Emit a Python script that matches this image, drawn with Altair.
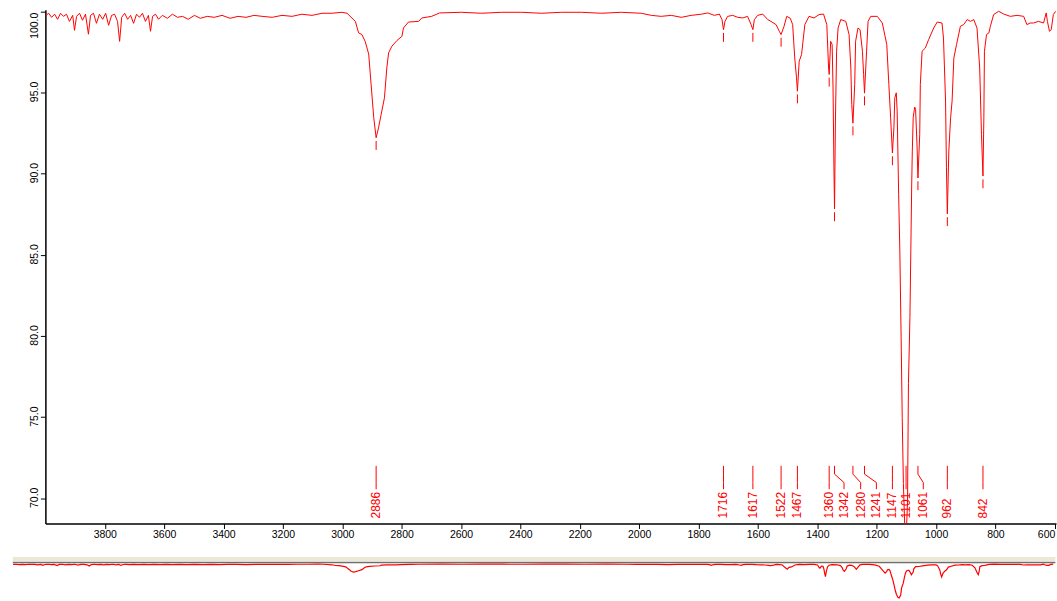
import altair as alt
import pandas as pd

# ---------------- data ----------------
wavenumber = [
    3999, 3989, 3979, 3969, 3959, 3949, 3939, 3929, 3919, 3908, 3902, 3895, 3885, 3875, 3865, 3855,
    3848, 3838, 3828, 3818, 3807, 3797, 3787, 3777, 3767, 3757, 3750, 3743, 3733, 3723, 3713, 3703,
    3693, 3683, 3673, 3663, 3653, 3646, 3639, 3629, 3619, 3606, 3589, 3572, 3555, 3538, 3519, 3498,
    3478, 3455, 3431, 3405, 3378, 3351, 3324, 3297, 3270, 3236, 3203, 3169, 3136, 3102, 3068, 3035,
    3001, 2984, 2956, 2945, 2934, 2923, 2911, 2903, 2894, 2886, 2878, 2869, 2858, 2850, 2844, 2833,
    2816, 2799, 2794, 2777, 2743, 2732, 2699, 2672, 2598, 2531, 2464, 2397, 2329, 2262, 2195, 2127,
    2060, 1993, 1959, 1926, 1892, 1858, 1825, 1791, 1769, 1747, 1730, 1721, 1716, 1711, 1702, 1685,
    1668, 1651, 1635, 1623, 1617, 1612, 1601, 1584, 1567, 1556, 1539, 1528, 1522, 1512, 1503, 1491,
    1483, 1476, 1470, 1467, 1461, 1453, 1442, 1428, 1411, 1394, 1379, 1368, 1362, 1360, 1355, 1350,
    1347, 1344, 1342, 1339, 1335, 1330, 1321, 1304, 1293, 1287, 1284, 1280, 1274, 1271, 1263, 1256,
    1248, 1244, 1241, 1234, 1229, 1220, 1198, 1181, 1166, 1159, 1153, 1147, 1142, 1139, 1134, 1131,
    1126, 1122, 1117, 1114, 1110, 1105, 1101, 1096, 1093, 1088, 1085, 1082, 1080, 1077, 1072, 1069,
    1064, 1061, 1055, 1053, 1047, 1036, 1025, 1008, 996, 980, 975, 968, 965, 962, 957, 951,
    946, 940, 931, 918, 907, 895, 884, 873, 862, 853, 847, 842, 839, 837, 830, 822,
    817, 806, 789, 772, 750, 727, 705, 694, 683, 672, 655, 638, 629, 625, 618, 612,
    605, 597,
]
transmittance = [
    99.75, 99.88, 99.63, 99.82, 99.51, 99.88, 99.69, 99.82, 99.38, 99.75, 98.83, 99.69, 99.88, 99.45, 99.82, 98.59,
    99.75, 99.88, 99.26, 99.82, 99.51, 99.88, 99.14, 99.75, 99.82, 99.38, 98.15, 99.63, 99.88, 99.51, 99.75, 99.26,
    99.82, 99.63, 99.88, 99.38, 99.75, 98.77, 99.69, 99.82, 99.51, 99.75, 99.57, 99.82, 99.63, 99.69, 99.51, 99.75,
    99.57, 99.69, 99.63, 99.75, 99.57, 99.69, 99.63, 99.75, 99.69, 99.63, 99.75, 99.69, 99.82, 99.75, 99.88, 99.88,
    99.94, 99.88, 99.38, 98.67, 98.57, 98.15, 97.36, 95.51, 93.44, 92.21, 92.82, 93.65, 94.67, 96.51, 97.44, 97.85,
    98.20, 98.46, 98.97, 99.34, 99.38, 99.59, 99.69, 99.90, 99.94, 99.88, 99.94, 99.94, 99.88, 99.94, 99.94, 99.88,
    99.94, 99.88, 99.75, 99.69, 99.75, 99.63, 99.75, 99.82, 99.90, 99.75, 99.83, 99.49, 98.87, 99.38, 99.69, 99.75,
    99.63, 99.59, 99.69, 99.18, 98.87, 99.49, 99.75, 99.83, 99.49, 99.38, 99.18, 98.77, 98.57, 99.08, 99.69, 99.57,
    99.18, 97.13, 95.90, 95.08, 96.92, 97.34, 99.18, 99.69, 99.59, 99.80, 99.83, 99.18, 96.51, 96.11, 98.15, 97.95,
    95.28, 90.36, 87.82, 93.24, 97.54, 98.97, 99.49, 99.38, 98.57, 96.51, 94.26, 93.11, 95.49, 98.15, 98.97, 98.87,
    97.54, 96.11, 94.96, 97.54, 99.38, 99.69, 99.69, 99.28, 97.95, 95.49, 93.44, 91.27, 92.82, 94.67, 94.98, 93.85,
    88.73, 85.24, 79.09, 74.99, 70.91, 68.02, 67.40, 69.87, 77.06, 81.14, 85.24, 89.36, 91.39, 93.44, 94.10, 93.97,
    91.70, 89.73, 92.42, 95.49, 97.54, 97.74, 98.26, 98.97, 99.34, 99.28, 98.36, 94.47, 90.36, 87.52, 91.39, 93.44,
    94.47, 97.13, 97.95, 99.08, 99.18, 99.49, 99.38, 99.49, 98.97, 96.51, 92.42, 89.85, 93.44, 97.54, 98.57, 98.67,
    99.08, 99.80, 100.00, 99.83, 99.69, 99.75, 99.69, 99.18, 99.28, 99.28, 99.38, 99.28, 99.90, 99.38, 98.77, 98.87,
    99.80, 100.00,
]

peak_text = ["2886", "1716", "1617", "1522", "1467", "1360", "1342", "1280", "1241",
             "1147", "1101", "1061", "962", "842"]
peak_wn = [2886, 1716, 1617, 1522, 1467, 1360, 1342, 1280, 1241, 1147, 1101, 1061, 962, 842]
label_wn = [2886, 1716, 1617, 1522, 1467, 1360, 1310, 1254, 1201, 1147, 1101, 1043, 962, 842]
peak_min_T = [92.21, 98.87, 98.87, 98.57, 95.08, 96.11, 87.82, 93.11, 94.96, 91.27, None, 89.73, 87.52, 89.85]

x_ticks = [3800, 3600, 3400, 3200, 3000, 2800, 2600, 2400, 2200, 2000, 1800, 1600, 1400, 1200, 1000, 800, 600]
y_ticks = [70, 75, 80, 85, 90, 95, 100]

leader_levels = [72.0, 71.49, 70.97, 70.56]
label_T = 68.76
RED = "#ff0000"
FONT = "Liberation Sans"

# ---------------- tables ----------------
spec = pd.DataFrame({"w": wavenumber, "T": transmittance})

rows = []
for lbl, pw, lw in zip(peak_text, peak_wn, label_wn):
    pts = [(pw, leader_levels[0]), (pw, leader_levels[1]), (lw, leader_levels[2]), (lw, leader_levels[3])]
    for k, (w, t) in enumerate(pts):
        rows.append({"label": lbl, "k": k, "w": w, "T": t})
leaders = pd.DataFrame(rows)

labels = pd.DataFrame({"label": peak_text, "w": label_wn, "T": [label_T] * len(peak_text)})

mk_w, mk_T, mk_T2 = [], [], []
for pw, m in zip(peak_wn, peak_min_T):
    if m is not None:
        mk_w.append(pw)
        mk_T.append(m - 0.2)
        mk_T2.append(m - 0.75)
markers = pd.DataFrame({"w": mk_w, "T": mk_T, "T2": mk_T2})

# ---------------- main panel ----------------
xs = alt.Scale(domain=[4000, 596], nice=False, zero=False)
ys = alt.Scale(domain=[68.45, 100.1], nice=False, zero=False)

xaxis = alt.Axis(values=x_ticks, format="d", title=None, grid=False, domainColor="black",
                 domainWidth=1.5, tickColor="black", tickSize=5, tickWidth=1, labelFontSize=10.5,
                 labelColor="black", labelFont=FONT, labelPadding=1, labelFlush=15, labelOverlap=False)
yaxis = alt.Axis(values=y_ticks, format=".1f", title=None, grid=False, domainColor="black",
                 domainWidth=1.5, tickColor="black", tickSize=5, tickWidth=1, labelFontSize=10.5,
                 labelColor="black", labelFont=FONT, labelPadding=1, labelAngle=270,
                 labelAlign="center", labelBaseline="bottom", labelOverlap=False,
                 labelOffset={"condition": {"test": "datum.value == 100", "value": 14}, "value": -1})

X = alt.X("w:Q", scale=xs, axis=xaxis, title=None)
Y = alt.Y("T:Q", scale=ys, axis=yaxis, title=None)

line = alt.Chart(spec).mark_line(color=RED, strokeWidth=1, clip=True).encode(x=X, y=Y)
mark_rules = alt.Chart(markers).mark_rule(color=RED, strokeWidth=1).encode(x=X, y=Y, y2="T2:Q")
lead = alt.Chart(leaders).mark_line(color=RED, strokeWidth=1).encode(
    x=X, y=Y, detail="label:N", order="k:Q")
txt = alt.Chart(labels).mark_text(color=RED, angle=270, align="left", baseline="middle",
                                  fontSize=12, font=FONT).encode(x=X, y=Y, text="label:N")

main = alt.layer(line, mark_rules, lead, txt).properties(width=1013, height=515)

# ---------------- overview strip ----------------
mxs = alt.Scale(domain=[4000, 600], range=[-32.7, 1009.3], nice=False, zero=False)
mys = alt.Scale(domain=[66.0, 107.5], nice=False, zero=False)
MX = alt.X("w:Q", scale=mxs, axis=None)
MY = alt.Y("T:Q", scale=mys, axis=None)

band = pd.DataFrame({"w": [4000], "w2": [590], "T": [102.96], "T2": [106.82]})
border = pd.DataFrame({"w": [4000], "w2": [590], "T": [101.7]})

mini_band = alt.Chart(band).mark_rect(color="#ebe8d6", clip=False).encode(
    x=MX, x2="w2:Q", y=MY, y2="T2:Q")
mini_border = alt.Chart(border).mark_rule(color="#6e6e6e", strokeWidth=1.5, clip=False).encode(
    x=MX, x2="w2:Q", y=MY)
mini_line = alt.Chart(spec).mark_line(color=RED, strokeWidth=1.2, clip=False).encode(x=MX, y=MY)

mini = alt.layer(mini_band, mini_border, mini_line).properties(width=1013, height=43)

chart = alt.vconcat(main, mini, spacing=15).properties(
    padding={"left": 9.5, "top": 8, "right": 0, "bottom": 0},
    background="white",
).configure_view(stroke="transparent")

chart.save("out.html", embed_options={"renderer": "svg", "actions": False})
